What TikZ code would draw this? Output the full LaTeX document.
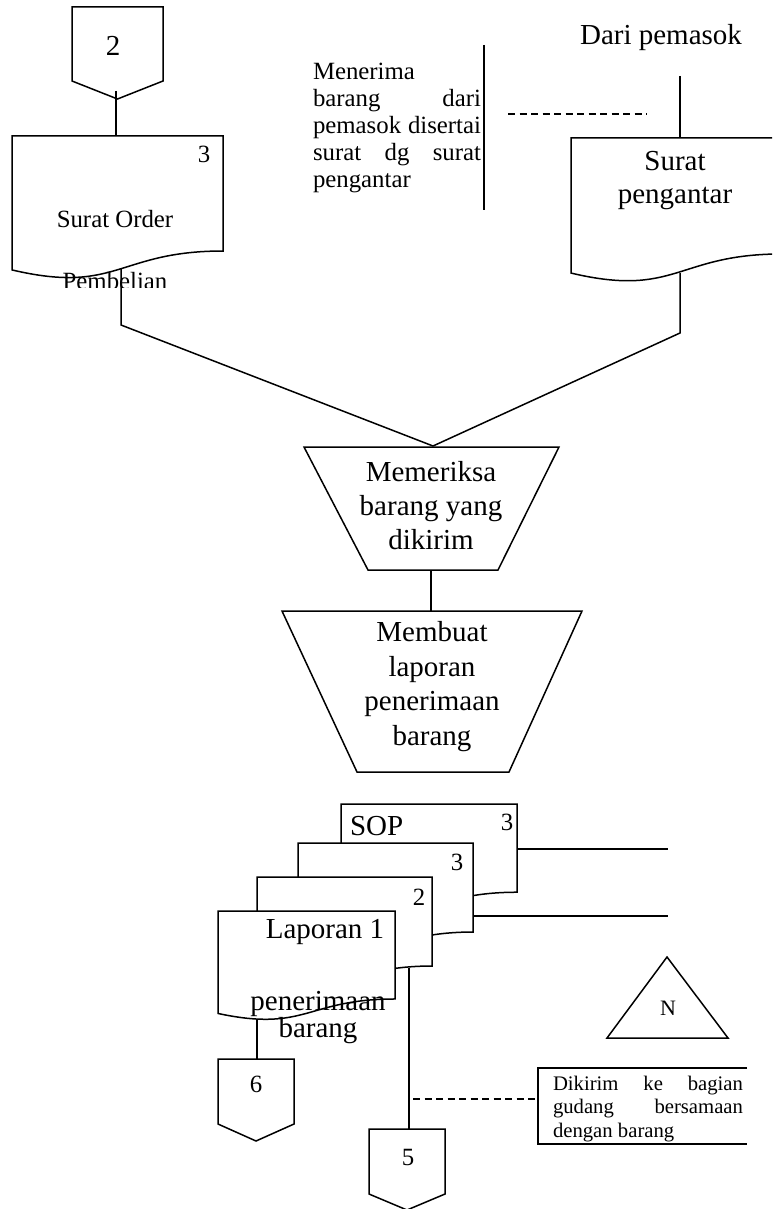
\documentclass[tikz,border=0pt]{standalone}
\usepackage{fontspec}
\setmainfont{Liberation Serif}
\newcommand{\FtTen}{\fontsize{20.7}{27}\selectfont}
\newcommand{\FtTwelve}{\fontsize{24.8}{29}\selectfont}
\newcommand{\FtFourteen}{\fontsize{29}{34}\selectfont}
% document shape: x0, y0, W, H
\newcommand{\docpath}[4]{(#1,#2) -- ({#1+#3},#2) -- ({#1+#3},{#2+0.802*#4}) .. controls ({#1+0.5*#3},{#2+0.802*#4}) and ({#1+0.5*#3},{#2+1.107*#4}) .. (#1,{#2+0.934*#4}) -- cycle}
% off-page connector: left, right, top, side bottom, tip
\newcommand{\offpath}[5]{(#1,#3) -- (#2,#3) -- (#2,#4) -- ({(#1+#2)/2},#5) -- (#1,#4) -- cycle}
\tikzset{
  shp/.style={draw=black, fill=white, line width=1.5pt, line join=miter},
  ln/.style={draw=black, line width=1.5pt},
  dln/.style={draw=black, line width=1.5pt, dash pattern=on 7pt off 4.5pt},
  txt/.style={inner sep=0pt, outer sep=0pt, anchor=base},
}
\begin{document}
\begin{tikzpicture}[x=1pt,y=-1pt]
\useasboundingbox (0,0) rectangle (772,1209);
\clip (0,0) rectangle (772,1209);

% ---------- top left: connector 2 and Surat Order ----------
\path[shp] \offpath{72}{163}{7}{81}{99};
\node[txt] (c2) at (113,56) {\FtFourteen 2};
\coordinate (c2b) at (116,91);
\coordinate (sotop) at (116,136);

\path[shp] \docpath{12}{136}{211}{143.4};
\node[txt] (so3) at (204,163) {\FtTwelve 3};
\node[txt] (so) at (115,227) {\FtTwelve Surat Order};
\begin{scope}
  \clip (0,0) rectangle (772,287);
  \node[txt] (sopb) at (115,289.5) {\FtTwelve Pembelian};
\end{scope}
\draw[ln] (c2b) -- (sotop);
\coordinate (sobot) at (121,269);
\coordinate (sobend) at (121,325);

% ---------- annotation top ----------
\node[txt, anchor=base west] (ann1) at (313,80) {\parbox[t]{168pt}{\FtTwelve\baselineskip=27pt
Menerima\\
barang\hfill dari\\
pemasok\hfill disertai\\
surat\hfill dg\hfill surat\\
pengantar}};
\coordinate (brt) at (484,45);
\coordinate (brb) at (484,210);
\draw[ln] (brt) -- (brb);
\coordinate (da) at (508,114);
\coordinate (db) at (647,114);
\draw[dln] (da) -- (db);

% ---------- top right: Dari pemasok and Surat pengantar ----------
\node[txt] (dari) at (661,45) {\FtFourteen Dari pemasok};
\coordinate (darib) at (680,76);
\coordinate (sptop) at (680,138);
\draw[ln] (darib) -- (sptop);
\path[shp] \docpath{571}{138}{211}{144.6};
\node[txt] (sp) at (675,170.5) {\parbox[t]{200pt}{\centering\FtFourteen\baselineskip=33pt Surat\\pengantar}};
\coordinate (spbot) at (680,273);
\coordinate (spbend) at (680,333);

% ---------- process 1 ----------
\coordinate (t1apex) at (433,446);
\path[shp] (304,447) -- (559,447) -- (498,570) -- (368,570) -- cycle;
\node[txt] (p1) at (431,481.7) {\parbox[t]{250pt}{\centering\FtFourteen\baselineskip=34pt Memeriksa\\barang yang\\dikirim}};
\draw[ln] (sobot) -- (sobend) -- (t1apex);
\draw[ln] (spbot) -- (spbend) -- (t1apex);
\coordinate (t1b) at (431,570);
\coordinate (t2t) at (431,611);
\draw[ln] (t1b) -- (t2t);

% ---------- process 2 ----------
\path[shp] (282,611) -- (582,611) -- (509,772) -- (357,772) -- cycle;
\node[txt] (p2) at (432,641.7) {\parbox[t]{280pt}{\centering\FtFourteen\baselineskip=34.5pt Membuat\\laporan\\penerimaan\\barang}};

% ---------- document stack ----------
\path[shp] \docpath{341}{804}{176}{110};
\node[txt, anchor=base west] (sop) at (350,835) {\FtFourteen SOP};
\node[txt] (sop3) at (507,830) {\FtTwelve 3};
\path[shp] \docpath{298}{843}{175}{111};
\node[txt] (d33) at (457,870) {\FtTwelve 3};
\path[shp] \docpath{257}{877}{175}{111};
\node[txt] (d22) at (419,905) {\FtTwelve 2};
\path[shp] \docpath{218}{911}{177}{109.7};
\node[txt] (lap) at (325,938) {\FtFourteen Laporan 1};
\node[txt] (lap2) at (318,1010) {\parbox[t]{200pt}{\centering\FtFourteen\baselineskip=25pt penerimaan\\barang}};

\coordinate (sopr) at (517,849);
\coordinate (sope) at (668,849);
\draw[ln] (sopr) -- (sope);
\coordinate (d3r) at (473,916);
\coordinate (d3e) at (668,916);
\draw[ln] (d3r) -- (d3e);

% ---------- connectors 6 and 5 ----------
\path[shp] \offpath{218}{294}{1059}{1124}{1141};
\node[txt] (c6) at (256,1092) {\FtTwelve 6};
\path[shp] \offpath{369}{445}{1129}{1194}{1210};
\node[txt] (c5) at (408,1165) {\FtTwelve 5};
\coordinate (d1b) at (257,1020);
\coordinate (c6t) at (257,1059);
\draw[ln] (d1b) -- (c6t);
\coordinate (d2b) at (409,968);
\coordinate (c5t) at (409,1129);
\draw[ln] (d2b) -- (c5t);

% ---------- N triangle ----------
\path[shp] (667,957) -- (728,1038) -- (607,1038) -- cycle;
\node[txt] (n) at (668,1015) {\fontsize{22}{26}\selectfont N};

% ---------- bottom annotation ----------
\draw[ln] (747,1068) -- (538,1068) -- (538,1144) -- (747,1144);
\node[txt, anchor=base west] (ann2) at (553,1090) {\parbox[t]{190pt}{\FtTen\baselineskip=23.5pt
Dikirim\hfill ke\hfill bagian\\
gudang\hfill bersamaan\\
dengan barang}};
\coordinate (dd1) at (413,1099);
\coordinate (dd2) at (536,1099);
\draw[dln] (dd1) -- (dd2);
\end{tikzpicture}
\end{document}
